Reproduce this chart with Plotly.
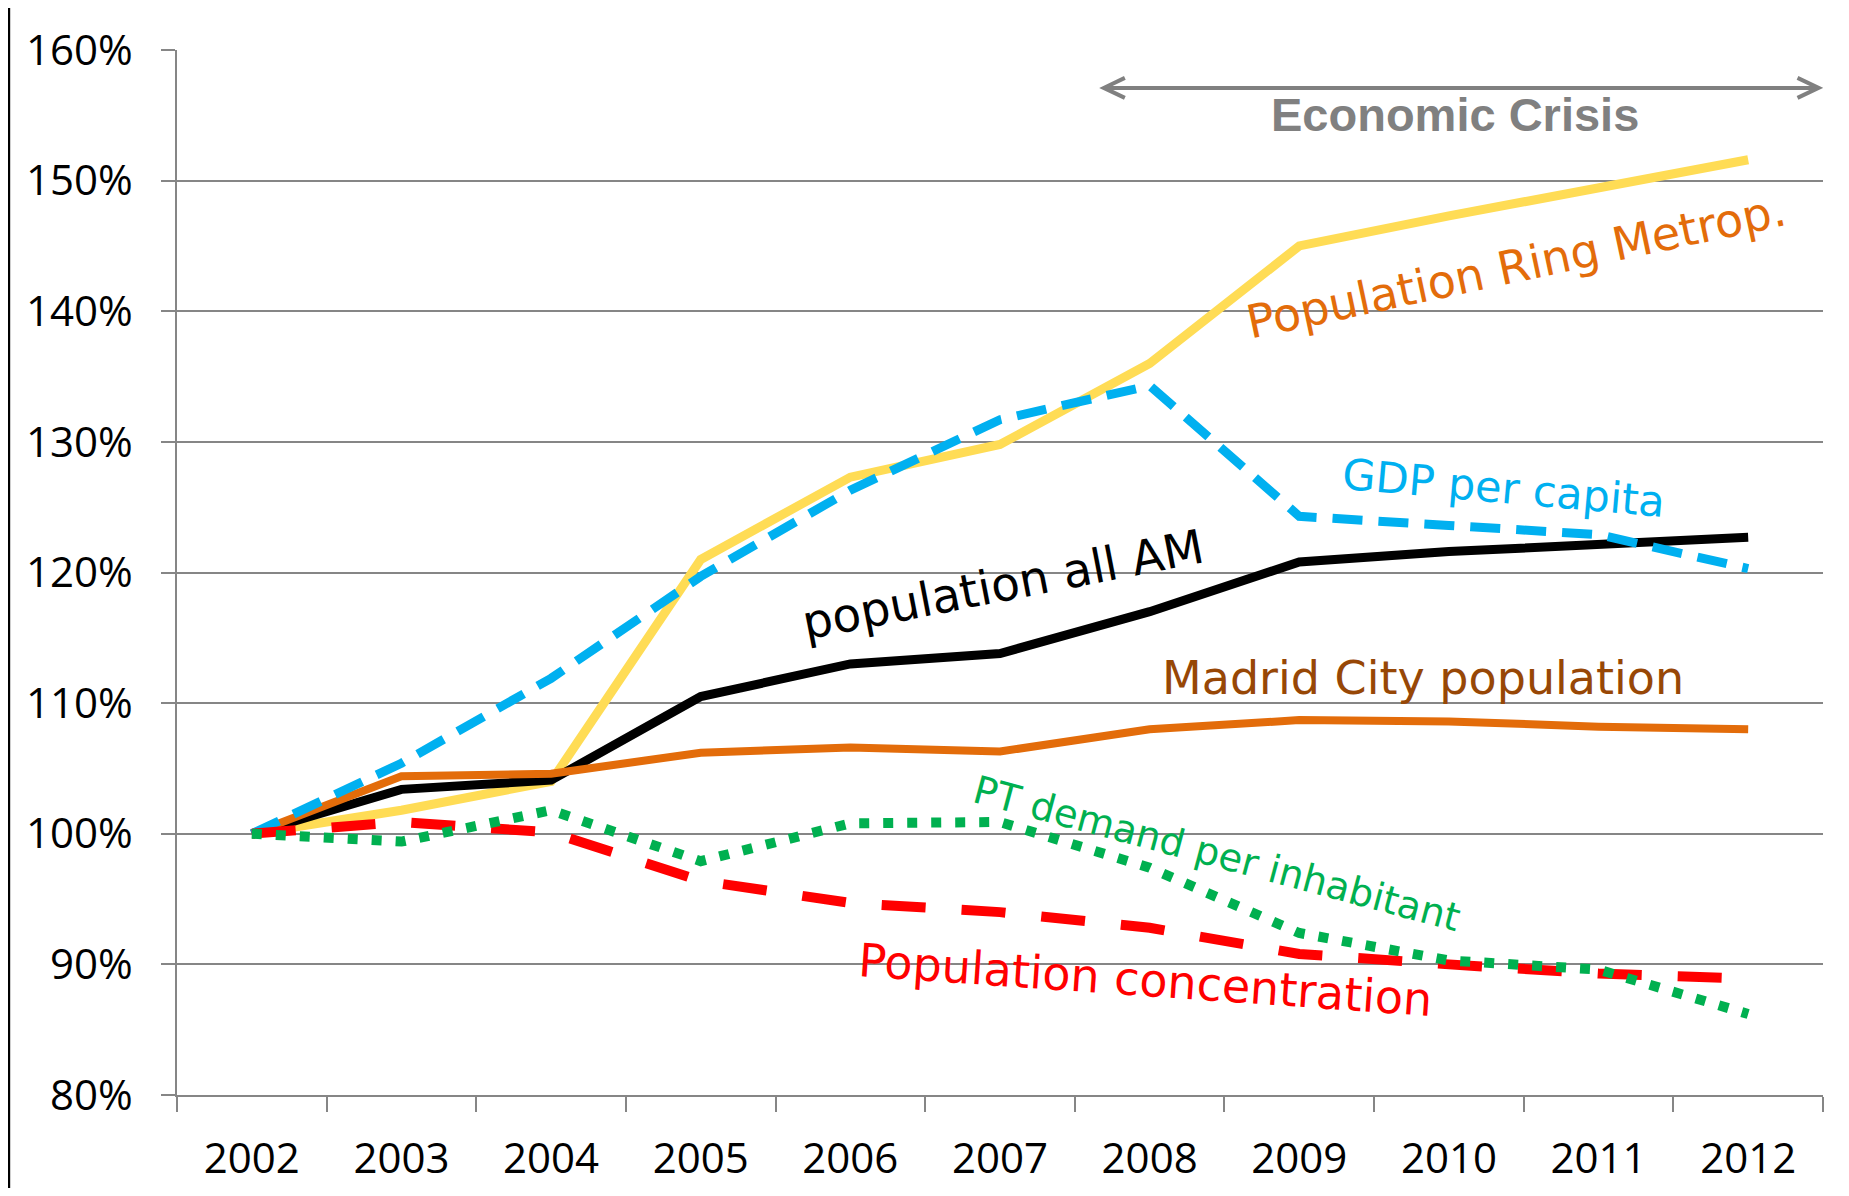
import plotly.graph_objects as go

# data (index values, 2002 = 100%)
years = ['2002', '2003', '2004', '2005', '2006', '2007', '2008', '2009', '2010', '2011', '2012']
ring_metrop = [100, 101.8, 104.0, 121.0, 127.3, 129.8, 136.0, 145.0, 147.3, 149.5, 151.6]
pop_all_am = [100, 103.4, 104.1, 110.5, 113.0, 113.8, 117.0, 120.8, 121.6, 122.2, 122.7]
madrid_city = [100, 104.4, 104.6, 106.2, 106.6, 106.3, 108.0, 108.7, 108.6, 108.2, 108.0]
gdp_capita = [100, 105.4, 111.9, 119.7, 126.3, 131.7, 134.3, 124.3, 123.6, 122.9, 120.3]
pt_demand = [100, 99.4, 101.8, 97.9, 100.8, 100.9, 97.4, 92.4, 90.3, 89.6, 86.2]
pop_concentration = [100, 100.9, 100.1, 96.4, 94.7, 94.0, 92.8, 90.8, 90.0, 89.3, 88.9]

grid_grey = '#868686'
label_font = 'DejaVu Sans'
tick_font = dict(family='Open Sans', size=42, color='#000000')

fig = go.Figure()

# series (drawing order: bottom -> top)
series = [
    (ring_metrop, '#FFDC55', 9, 'solid'),
    (pop_all_am, '#000000', 9, 'solid'),
    (madrid_city, '#E36C0A', 8, 'solid'),
    (gdp_capita, '#00B0F0', 9, '30px,16px'),
    (pop_concentration, '#FF0000', 10, '44px,36px'),
    (pt_demand, '#00B050', 10, '10px,14px'),
]
for vals, color, width, dash in series:
    fig.add_trace(go.Scatter(x=years, y=vals, mode='lines',
                             line=dict(color=color, width=width, dash=dash),
                             showlegend=False, hoverinfo='skip'))

# series labels
labels = [
    ('Population Ring Metrop.', 8.45, 143.5, -12, '#E36C0A', 46),
    ('population all AM', 5.02, 119.1, -11, '#000000', 47),
    ('GDP per capita', 8.37, 126.5, 5, '#00B0F0', 43),
    ('Madrid City population', 7.83, 111.9, 0, '#974706', 46),
    ('PT demand per inhabitant', 6.45, 98.5, 15, '#00B050', 38.5),
    ('Population concentration', 5.97, 88.8, 4, '#FF0000', 46),
]
for text, x, y, ang, color, size in labels:
    fig.add_annotation(x=x, y=y, xref='x', yref='y', text=text, showarrow=False,
                       textangle=ang, font=dict(family=label_font, size=size, color=color))

# economic crisis marker
fig.add_annotation(x=8.04, y=155.1, xref='x', yref='y', text='<b>Economic Crisis</b>',
                   showarrow=False, font=dict(family='Liberation Sans', size=47, color='#808080'))
arrow_y = 157.1
arrow_l, arrow_r = 5.694, 10.47
fig.add_shape(type='line', x0=arrow_l, x1=arrow_r, y0=arrow_y, y1=arrow_y,
              xref='x', yref='y', line=dict(color='#808080', width=4))
for anchor, sign in [(arrow_l, 1), (arrow_r, -1)]:
    fig.add_shape(type='path', xref='x', yref='y', xsizemode='pixel', ysizemode='pixel',
                  xanchor=anchor, yanchor=arrow_y,
                  path=f'M {21 * sign},10 L 0,0 L {21 * sign},-10',
                  line=dict(color='#808080', width=4))

# slide frame (left edge)
fig.add_shape(type='line', xref='paper', yref='paper', x0=-0.1021, x1=-0.1021, y0=-0.2, y1=1.05,
              line=dict(color='#000000', width=2.5))

fig.update_xaxes(type='category', showgrid=False, showline=True, linecolor=grid_grey, linewidth=1.5,
                 ticks='outside', tickson='boundaries', ticklen=15, tickwidth=1.5, tickcolor=grid_grey,
                 tickfont=tick_font, ticklabelstandoff=26, range=[-0.5, 10.5], automargin=False)
fig.update_yaxes(range=[80, 160], dtick=10, ticksuffix='%', showgrid=True, gridcolor=grid_grey,
                 gridwidth=1.5, showline=True, linecolor=grid_grey, linewidth=1.5, zeroline=False,
                 ticks='outside', ticklen=14, tickwidth=1.5, tickcolor=grid_grey,
                 tickfont=tick_font, ticklabelstandoff=20, automargin=False)

fig.update_layout(width=1833, height=1180, plot_bgcolor='white', paper_bgcolor='white',
                  margin=dict(l=169, r=18, t=42, b=93))

fig.write_html("out.html")
